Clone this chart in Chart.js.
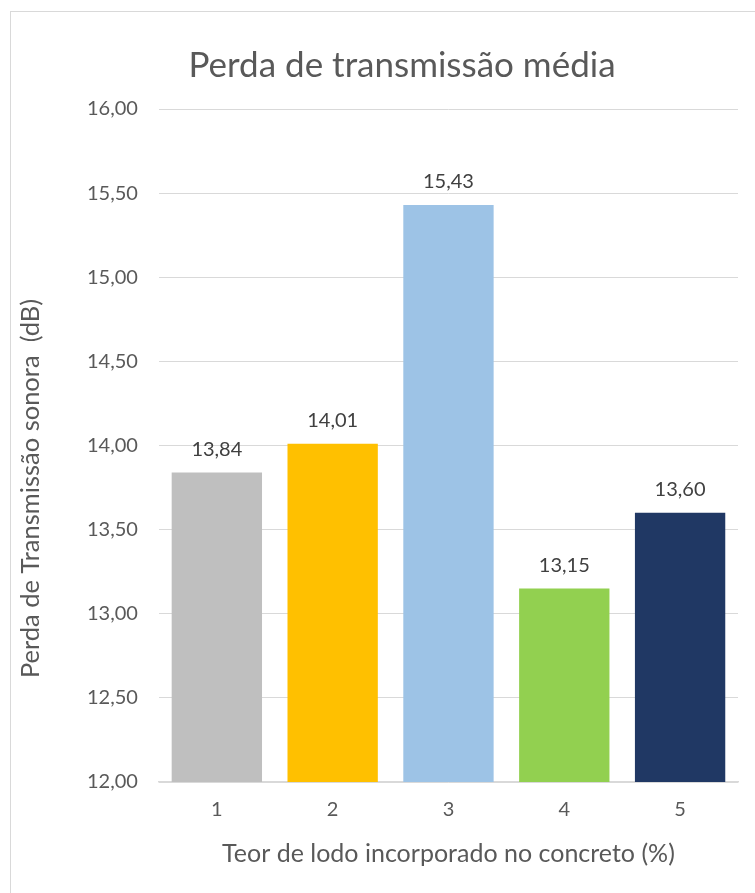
<!DOCTYPE html>
<html>
<head>
<meta charset="utf-8">
<script src="https://cdn.jsdelivr.net/npm/chart.js@4/dist/chart.umd.min.js"></script>
<style>
  html, body { margin: 0; padding: 0; background: #fff; }
  #wrap { position: relative; width: 755px; height: 893px; overflow: hidden; }
  #frame { position: absolute; left: 10px; top: 11px; width: 800px; height: 950px; border: 1px solid #D9D9D9; }
  canvas { position: absolute; left: 0; top: 0; }
</style>
</head>
<body>
<div id="wrap">
  <div id="frame"></div>
  <canvas id="chart" width="755" height="893"></canvas>
</div>
<script>
const categories = ['1', '2', '3', '4', '5'];
const perdaMedia = [13.84, 14.01, 15.43, 13.15, 13.60];
const barColors = ['#BFBFBF', '#FFC000', '#9DC3E6', '#92D050', '#203864'];
const yTicks = [12, 12.5, 13, 13.5, 14, 14.5, 15, 15.5, 16];
const yTitle = 'Perda de Transmissão sonora  (dB)';

const FONT = "Lato, 'Open Sans', sans-serif";
const TEXT = '#595959';
const fmt = v => v.toFixed(2).replace('.', ',');

// draws the value above each bar
const barLabels = {
    id: 'barLabels',
    afterDatasetsDraw(chart) {
        const ctx = chart.ctx;
        const meta = chart.getDatasetMeta(0);
        ctx.save();
        ctx.font = '20px ' + FONT;
        ctx.fillStyle = '#404040';
        ctx.textAlign = 'center';
        ctx.textBaseline = 'bottom';
        meta.data.forEach((bar, i) => {
            ctx.fillText(fmt(perdaMedia[i]), bar.x, bar.y - 13);
        });
        ctx.restore();
    }
};

// y axis title, Excel puts it a bit below the middle of the plot
const yAxisTitle = {
    id: 'yAxisTitle',
    afterDraw(chart) {
        const ctx = chart.ctx;
        const area = chart.chartArea;
        ctx.save();
        ctx.translate(31, (area.top + area.bottom) / 2 + 43);
        ctx.rotate(-Math.PI / 2);
        ctx.font = '25.5px ' + FONT;
        ctx.fillStyle = TEXT;
        ctx.textAlign = 'center';
        ctx.textBaseline = 'middle';
        ctx.fillText(yTitle, 0, 0);
        ctx.restore();
    }
};

const ctx = document.getElementById('chart').getContext('2d');
new Chart(ctx, {
    type: 'bar',
    data: {
        labels: categories,
        datasets: [{
            data: perdaMedia,
            backgroundColor: barColors,
            categoryPercentage: 0.78,
            barPercentage: 1.0
        }]
    },
    options: {
        responsive: false,
        animation: false,
        layout: { padding: { left: 66, right: 17, top: 40, bottom: 20 } },
        plugins: {
            legend: { display: false },
            tooltip: { enabled: false },
            title: {
                display: true,
                text: 'Perda de transmissão média',
                color: TEXT,
                font: { family: FONT, size: 35, weight: 'normal' },
                padding: { top: 5, bottom: 22 }
            }
        },
        scales: {
            x: {
                grid: { display: false, drawTicks: false },
                border: { color: '#D9D9D9', width: 1.5 },
                ticks: { color: TEXT, font: { family: FONT, size: 20 }, padding: 16 },
                title: {
                    display: true,
                    text: 'Teor de lodo incorporado no concreto (%)',
                    color: TEXT,
                    font: { family: FONT, size: 25 },
                    padding: { top: 1 }
                }
            },
            y: {
                min: 12,
                max: 16,
                afterBuildTicks: axis => { axis.ticks = yTicks.map(v => ({ value: v })); },
                grid: { color: '#D9D9D9', drawTicks: false },
                border: { display: false },
                ticks: {
                    color: TEXT,
                    font: { family: FONT, size: 20 },
                    padding: 21,
                    callback: v => fmt(v)
                }
            }
        }
    },
    plugins: [barLabels, yAxisTitle]
});
</script>
</body>
</html>
